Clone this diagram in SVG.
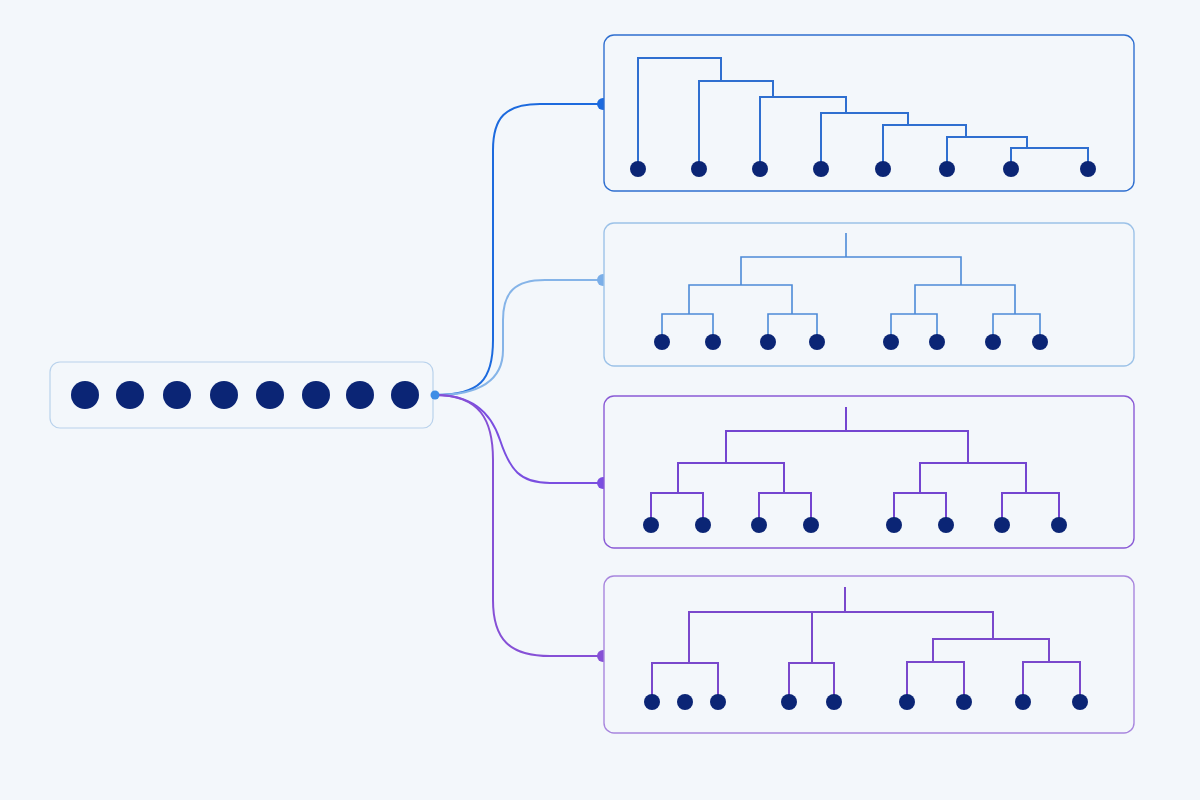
<svg xmlns="http://www.w3.org/2000/svg" width="1200" height="800" viewBox="0 0 1200 800">
<style>
.leaf{fill:#0b2575}
.t1{fill:none;stroke:#2f6fd0;stroke-width:2}
.t2{fill:none;stroke:#4d8ad8;stroke-width:1.6}
.t3{fill:none;stroke:#7445d0;stroke-width:2}
.t4{fill:none;stroke:#7a48cc;stroke-width:2}
.c{fill:none;stroke-width:2}
</style>
<rect width="1200" height="800" fill="#f3f7fb"/>
<g id="source">
<rect x="50" y="362" width="383" height="66" rx="10" fill="#f3f7fb" stroke="#b9d2ec" stroke-width="1.2"/>
<g class="leaf"><circle cx="85" cy="395" r="14"/><circle cx="130" cy="395" r="14"/><circle cx="177" cy="395" r="14"/><circle cx="224" cy="395" r="14"/><circle cx="270" cy="395" r="14"/><circle cx="316" cy="395" r="14"/><circle cx="360" cy="395" r="14"/><circle cx="405" cy="395" r="14"/></g>
</g>
<g id="connectors">
<path class="c" stroke="#1c6ade" d="M435,395 C480,395 493,380 493,340 L493,150 C493,118 505,104 540,104 L603,104"/>
<path class="c" stroke="#85b4e8" d="M435,395 C480,395 503,380 503,350 L503,320 C503,292 515,280 545,280 L603,280"/>
<path class="c" stroke="#7a4ee0" d="M435,395 C470,395 490,410 500,440 C510,470 520,483 550,483 L603,483"/>
<path class="c" stroke="#8650d6" d="M435,395 C480,395 493,420 493,460 L493,600 C493,640 510,656 550,656 L603,656"/>
<circle cx="435" cy="395" r="4.5" fill="#3f8ee6"/>
<circle cx="603" cy="104" r="6" fill="#1c6ade"/>
<circle cx="603" cy="280" r="6" fill="#7aaee8"/>
<circle cx="603" cy="483" r="6" fill="#7a4ee0"/>
<circle cx="603" cy="656" r="6" fill="#8650d6"/>
</g>
<g id="panel1">
<rect x="604" y="35" width="530" height="156" rx="10" fill="#f3f7fb" stroke="#2f6fd0" stroke-width="1.4"/>
<path class="t1" d="M638,169 V58 H721 V81 M699,169 V81 H773 V97 M760,169 V97 H846 V113 M821,169 V113 H908 V125 M883,169 V125 H966 V137 M947,169 V137 H1027 V148 M1011,169 V148 H1088 V169"/>
<g class="leaf"><circle cx="638" cy="169" r="8"/><circle cx="699" cy="169" r="8"/><circle cx="760" cy="169" r="8"/><circle cx="821" cy="169" r="8"/><circle cx="883" cy="169" r="8"/><circle cx="947" cy="169" r="8"/><circle cx="1011" cy="169" r="8"/><circle cx="1088" cy="169" r="8"/></g>
</g>
<g id="panel2">
<rect x="604" y="223" width="530" height="143" rx="10" fill="#f3f7fb" stroke="#9cc2e8" stroke-width="1.4"/>
<path class="t2" d="M846,233 V257 M741,285 V257 H961 V285 M689,314 V285 H792 V314 M915,314 V285 H1015 V314 M662,342 V314 H713 V342 M768,342 V314 H817 V342 M891,342 V314 H937 V342 M993,342 V314 H1040 V342"/>
<g class="leaf"><circle cx="662" cy="342" r="8"/><circle cx="713" cy="342" r="8"/><circle cx="768" cy="342" r="8"/><circle cx="817" cy="342" r="8"/><circle cx="891" cy="342" r="8"/><circle cx="937" cy="342" r="8"/><circle cx="993" cy="342" r="8"/><circle cx="1040" cy="342" r="8"/></g>
</g>
<g id="panel3">
<rect x="604" y="396" width="530" height="152" rx="10" fill="#f3f7fb" stroke="#8a5bd6" stroke-width="1.4"/>
<path class="t3" d="M846,407 V431 M726,463 V431 H968 V463 M678,493 V463 H784 V493 M920,493 V463 H1026 V493 M651,525 V493 H703 V525 M759,525 V493 H811 V525 M894,525 V493 H946 V525 M1002,525 V493 H1059 V525"/>
<g class="leaf"><circle cx="651" cy="525" r="8"/><circle cx="703" cy="525" r="8"/><circle cx="759" cy="525" r="8"/><circle cx="811" cy="525" r="8"/><circle cx="894" cy="525" r="8"/><circle cx="946" cy="525" r="8"/><circle cx="1002" cy="525" r="8"/><circle cx="1059" cy="525" r="8"/></g>
</g>
<g id="panel4">
<rect x="604" y="576" width="530" height="157" rx="10" fill="#f3f7fb" stroke="#a886de" stroke-width="1.4"/>
<path class="t4" d="M845,587 V612 M689,663 V612 H993 V639 M812,612 V663 M933,662 V639 H1049 V662 M652,702 V663 H718 V702 M789,702 V663 H834 V702 M907,702 V662 H964 V702 M1023,702 V662 H1080 V702"/>
<g class="leaf"><circle cx="652" cy="702" r="8"/><circle cx="685" cy="702" r="8"/><circle cx="718" cy="702" r="8"/><circle cx="789" cy="702" r="8"/><circle cx="834" cy="702" r="8"/><circle cx="907" cy="702" r="8"/><circle cx="964" cy="702" r="8"/><circle cx="1023" cy="702" r="8"/><circle cx="1080" cy="702" r="8"/></g>
</g>
</svg>
